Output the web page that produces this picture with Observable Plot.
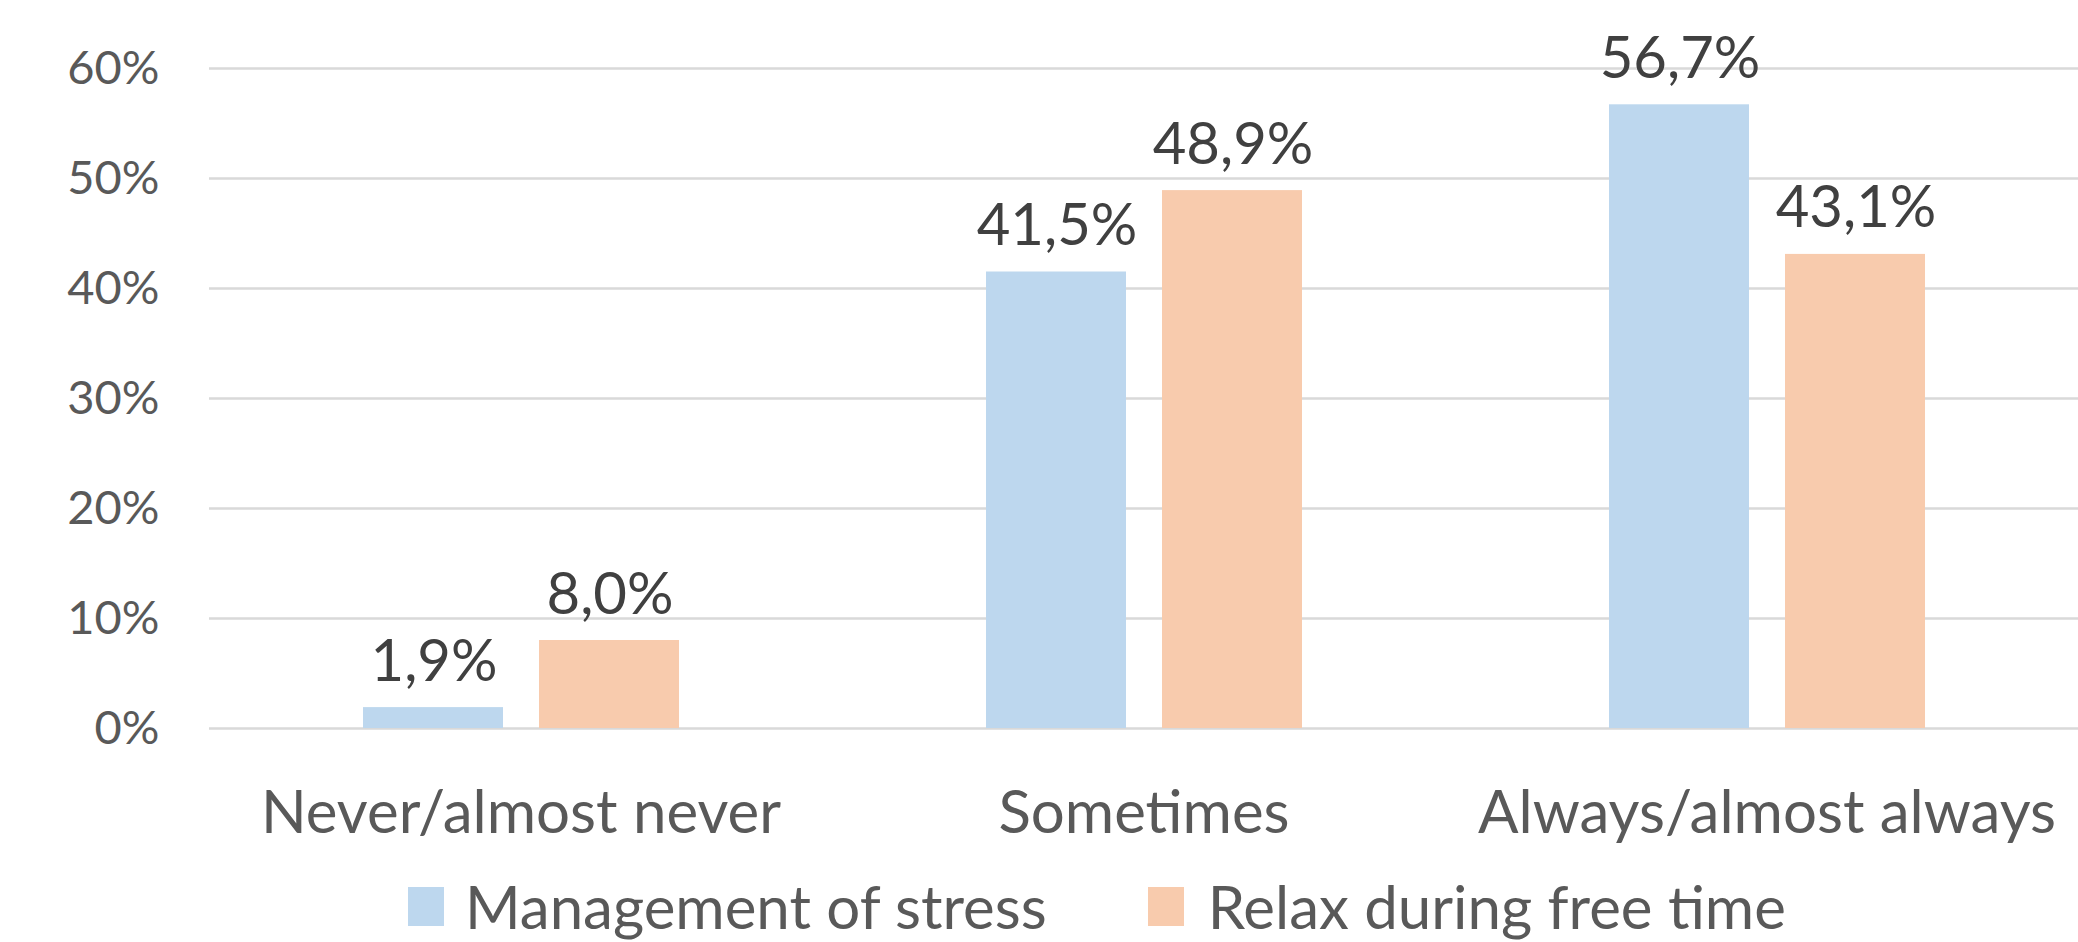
<!DOCTYPE html>
<html><head><meta charset="utf-8">
<script src="https://cdn.jsdelivr.net/npm/d3@7"></script>
<script src="https://cdn.jsdelivr.net/npm/@observablehq/plot@0.6"></script>
<style>
body{margin:0;background:#fff;}
#chart{width:2078px;position:relative;}
.legend{display:flex;align-items:center;height:72px;padding-top:6px;padding-left:408px;font-family:Lato,"Open Sans",sans-serif;font-size:60px;color:#595959;}
.sw{width:36px;height:39px;display:inline-block;}
</style></head><body><div id="chart"></div><script>
const categories = ["Never/almost never", "Sometimes", "Always/almost always"];
const series = ["Management of stress", "Relax during free time"];
const stress = [1.9, 41.5, 56.7];
const relax = [8.0, 48.9, 43.1];
const yTicks = [0, 10, 20, 30, 40, 50, 60];
const colors = ["#BDD7EE", "#F8CBAD"];

const data = categories.flatMap((c, i) => [
  {category: c, series: series[0], value: stress[i]},
  {category: c, series: series[1], value: relax[i]}
]);
const fmt = d => d.value.toFixed(1).replace(".", ",") + "%";
const H = 864;
const chart = Plot.plot({
  width: 2078, height: H,
  marginLeft: 209, marginRight: 0, marginTop: 68, marginBottom: H - 728,
  style: {fontFamily: "Lato, 'Open Sans', sans-serif", color: "#595959", background: "#fff"},
  x: {domain: categories, padding: 0, label: null},
  y: {domain: [0, 60], label: null},
  color: {domain: series, range: colors},
  marks: [
    Plot.ruleY(yTicks, {stroke: "#d9d9d9", strokeWidth: 2.5}),
    Plot.barY(data.filter(d => d.series === series[0]), {x: "category", y: "value", fill: "series", insetLeft: 154, insetRight: 329}),
    Plot.barY(data.filter(d => d.series === series[1]), {x: "category", y: "value", fill: "series", insetLeft: 330, insetRight: 153}),
    Plot.text(data.filter(d => d.series === series[0]), {x: "category", y: "value", text: fmt, dx: -87, dy: -27, lineAnchor: "bottom", fontSize: 58, fill: "#404040"}),
    Plot.text(data.filter(d => d.series === series[1]), {x: "category", y: "value", text: fmt, dx: 89, dy: -27, lineAnchor: "bottom", fontSize: 58, fill: "#404040"}),
    Plot.axisY({ticks: yTicks, tickFormat: d => d + "%", tickSize: 0, tickPadding: 50, fontSize: 47, label: null}),
    Plot.axisX({tickSize: 0, tickPadding: 62, fontSize: 60, label: null})
  ]
});
const root = document.getElementById("chart");
root.appendChild(chart);
const lg = document.createElement("div");
lg.className = "legend";
series.forEach((s, i) => {
  const sw = document.createElement("span");
  sw.className = "sw"; sw.style.background = colors[i];
  sw.style.marginRight = i === 0 ? "21px" : "24px";
  const t = document.createElement("span");
  t.textContent = s;
  if (i === 0) t.style.marginRight = "101px";
  lg.appendChild(sw); lg.appendChild(t);
});
root.appendChild(lg);
</script></body></html>
